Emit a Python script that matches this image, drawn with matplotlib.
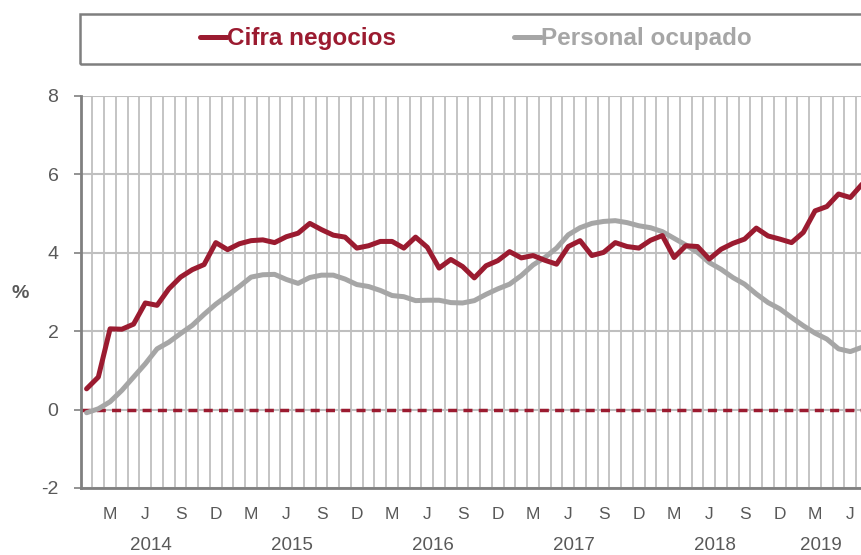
import matplotlib
matplotlib.use("Agg")
import matplotlib.pyplot as plt
import matplotlib.transforms as mtransforms
from matplotlib.patches import Rectangle
import numpy as np

# ---- data (monthly, Jan 2014 .. Jul 2019) ----
cifra_negocios = [0.53, 0.83, 2.06, 2.05, 2.18, 2.72, 2.66, 3.08, 3.38, 3.57, 3.70,
                  4.26, 4.08, 4.23, 4.31, 4.33, 4.26, 4.41, 4.50, 4.75, 4.59, 4.45,
                  4.40, 4.12, 4.18, 4.29, 4.29, 4.12, 4.40, 4.14, 3.61, 3.83,
                  3.65, 3.36, 3.67, 3.80, 4.03, 3.87, 3.93, 3.81, 3.71, 4.16, 4.31,
                  3.93, 4.01, 4.26, 4.16, 4.12, 4.32, 4.44, 3.88, 4.18, 4.16, 3.84,
                  4.09, 4.24, 4.35, 4.63, 4.43, 4.35, 4.26, 4.52, 5.07, 5.18, 5.50, 5.41, 5.75]
personal_ocupado = [-0.08, 0.02, 0.20, 0.49, 0.83, 1.17, 1.55, 1.72, 1.94, 2.15, 2.43,
                    2.69, 2.91, 3.14, 3.38, 3.44, 3.45, 3.32, 3.22, 3.37, 3.43, 3.43,
                    3.33, 3.19, 3.14, 3.04, 2.91, 2.88, 2.78, 2.79, 2.79, 2.73,
                    2.72, 2.78, 2.94, 3.08, 3.20, 3.42, 3.69, 3.88, 4.12, 4.46, 4.64,
                    4.75, 4.80, 4.82, 4.77, 4.69, 4.64, 4.54, 4.37, 4.20, 4.01, 3.75,
                    3.58, 3.37, 3.20, 2.95, 2.73, 2.57, 2.35, 2.14, 1.95, 1.80, 1.55, 1.48, 1.59]
month_labels = ["M", "J", "S", "D"]
month_label_idx = [2, 5, 8, 11]
years = ["2014", "2015", "2016", "2017", "2018", "2019"]
y_ticks = [-2, 0, 2, 4, 6, 8]
series_names = ["Cifra negocios", "Personal ocupado"]

RED = "#9B1B30"
GREY = "#A6A6A6"
TXT = "#595959"

plt.rcParams["font.family"] = ["Liberation Sans", "DejaVu Sans"]

fig = plt.figure(figsize=(8.61, 5.55), dpi=100)
ax = fig.add_axes([80.7 / 861, (555 - 488) / 555, 1 - 80.7 / 861, (488 - 96) / 555])

n = len(cifra_negocios)
x = np.arange(n)
ax.set_xlim(-0.5, 65.91)
ax.set_ylim(-2, 8)

# gridlines
for b in np.arange(0.5, 67, 1.0):
    ax.axvline(b, color="#B4B4B4", lw=1.1, zorder=1)
for yv in y_ticks:
    ax.axhline(yv, color="#BFBFBF", lw=1.5, zorder=1)

ax.axhline(0, color=RED, lw=2.5, ls=(0, (2.6, 1.8)), zorder=2)

l1, = ax.plot(x, cifra_negocios, color=RED, lw=3.6, solid_joinstyle="round",
              solid_capstyle="round", zorder=4, label=series_names[0])
l2, = ax.plot(x, personal_ocupado, color=GREY, lw=3.6, solid_joinstyle="round",
              solid_capstyle="round", zorder=3, label=series_names[1])

for s in ["top", "right"]:
    ax.spines[s].set_visible(False)
ax.spines["left"].set_color("#808080")
ax.spines["left"].set_linewidth(2)
ax.spines["bottom"].set_color("#808080")
ax.spines["bottom"].set_linewidth(2)

ax.set_yticks(y_ticks)
ax.set_yticklabels([str(v) for v in y_ticks])
ax.tick_params(axis="y", length=5, width=1.2, color="#808080", pad=11,
               labelsize=14, labelcolor=TXT)

xt, xl = [], []
for yi in range(len(years)):
    for k, m in zip(month_label_idx, month_labels):
        pos = yi * 12 + k
        if pos < 66:
            xt.append(pos)
            xl.append(m)
ax.set_xticks(xt)
ax.set_xticklabels(xl)
ax.tick_params(axis="x", length=0, pad=14, labelsize=12.5, labelcolor=TXT)

trans = mtransforms.blended_transform_factory(ax.transData, fig.transFigure)
for yi, yr in enumerate(years):
    start = yi * 12
    end = min(start + 11, 65)
    ax.text((start + end) / 2, (555 - 545) / 555, yr, transform=trans,
            ha="center", va="center", fontsize=13.5, color=TXT, clip_on=False)

fig.text(20 / 861, 1 - 293 / 555, "%", ha="center", va="center", fontsize=14,
         fontweight="bold", color=TXT)

# legend box
fig.patches.append(Rectangle((80 / 861, 1 - 64 / 555), 0.95, 50 / 555,
                             transform=fig.transFigure, fill=False,
                             edgecolor="#7F7F7F", lw=1.8))
leg = fig.legend(handles=[l1, l2], loc="center", bbox_to_anchor=(476 / 861, 1 - 39 / 555),
                 ncol=2, frameon=False, handlelength=1.1, handletextpad=0.0,
                 columnspacing=4.85, prop={"weight": "bold", "size": 17.5})
for txt, col in zip(leg.get_texts(), [RED, GREY]):
    txt.set_color(col)

fig.savefig("out.png", dpi=100)
